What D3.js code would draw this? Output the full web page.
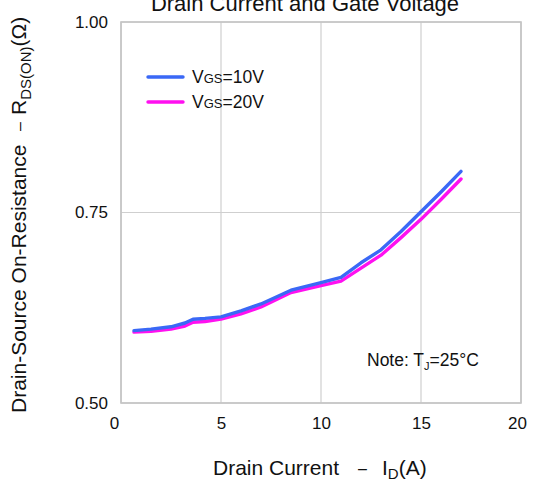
<!DOCTYPE html>
<html><head><meta charset="utf-8">
<script src="https://cdn.jsdelivr.net/npm/d3@7"></script>
<style>body{margin:0;background:#fff}svg{display:block;font-family:"Liberation Sans",Arial,sans-serif}</style>
</head><body>
<svg id="c" width="534" height="481"></svg>
<script>
const currentA = [0.65, 1.5, 2.5, 3.2, 3.6, 4.2, 5, 6, 7, 8.5, 10, 11, 12, 13, 14, 15, 16, 17];
const rdsVgs10 = [0.595, 0.597, 0.600, 0.605, 0.610, 0.611, 0.613, 0.621, 0.630, 0.648, 0.658, 0.665, 0.684, 0.701, 0.725, 0.751, 0.777, 0.804];
const rdsVgs20 = [0.593, 0.594, 0.597, 0.601, 0.606, 0.607, 0.610, 0.617, 0.626, 0.645, 0.654, 0.660, 0.677, 0.694, 0.717, 0.741, 0.767, 0.794];
const xTicks = [0, 5, 10, 15, 20];
const yTicks = [0.50, 0.75, 1.00];
const seriesNames = ["10V", "20V"];
const seriesColors = ["#3a68f6", "#ff10f0"];

const svg = d3.select("#c");
const L = 121, R = 521, T = 22, B = 403;
const x = d3.scaleLinear().domain([0, 20]).range([L, R]);
const y = d3.scaleLinear().domain([0.5, 1.0]).range([B, T]);

// grid
const g = svg.append("g");
g.selectAll(".vx").data(xTicks).join("line")
  .attr("x1", d => x(d)).attr("x2", d => x(d)).attr("y1", T).attr("y2", B)
  .attr("stroke", "#cfcfcf").attr("stroke-width", 1.2);
g.selectAll(".hy").data(yTicks).join("line")
  .attr("x1", L).attr("x2", R).attr("y1", d => y(d)).attr("y2", d => y(d))
  .attr("stroke", "#cfcfcf").attr("stroke-width", 1.2);
svg.append("rect").attr("x", L).attr("y", T).attr("width", R - L).attr("height", B - T)
  .attr("fill", "none").attr("stroke", "#c4c4c4").attr("stroke-width", 1.6);

// axes labels via d3 axes without lines
const xAxis = svg.append("g").attr("transform", `translate(0,${B})`)
  .call(d3.axisBottom(x).tickValues(xTicks).tickSize(0).tickPadding(14).tickFormat(d3.format("d")));
xAxis.select(".domain").remove();
xAxis.selectAll("text").attr("font-size", 17).attr("fill", "#111").attr("font-family", "Liberation Sans, Arial, sans-serif")
  .attr("dx", d => d === 0 ? -7 : (d === 20 ? -4 : 0));

const yAxis = svg.append("g").attr("transform", `translate(${L},0)`)
  .call(d3.axisLeft(y).tickValues(yTicks).tickSize(0).tickPadding(13).tickFormat(d3.format(".2f")));
yAxis.select(".domain").remove();
yAxis.selectAll("text").attr("font-size", 17).attr("fill", "#111").attr("font-family", "Liberation Sans, Arial, sans-serif");

// lines
const data = [rdsVgs10, rdsVgs20];
const line = d3.line().x((d, i) => x(currentA[i])).y(d => y(d));
[1, 0].forEach(k => {
  svg.append("path").datum(data[k]).attr("d", line).attr("fill", "none")
    .attr("stroke", seriesColors[k]).attr("stroke-width", 3.4).attr("stroke-linecap", "round").attr("stroke-linejoin", "round");
});

// legend
seriesNames.forEach((n, i) => {
  const ly = 77 + i * 25;
  svg.append("line").attr("x1", 148).attr("x2", 183).attr("y1", ly).attr("y2", ly)
    .attr("stroke", seriesColors[i]).attr("stroke-width", 3.4).attr("stroke-linecap", "round");
  const t = svg.append("text").attr("x", 192).attr("y", ly + 6).attr("font-size", 17.5).attr("fill", "#111");
  t.append("tspan").text("V");
  t.append("tspan").attr("font-size", 13).text("GS");
  t.append("tspan").text("=" + n);
});

// note
const nt = svg.append("text").attr("x", 367).attr("y", 366).attr("font-size", 17.5).attr("fill", "#111");
nt.append("tspan").text("Note: T");
nt.append("tspan").attr("font-size", 11).attr("dy", 4).text("J");
nt.append("tspan").attr("dy", -4).text("=25°C");

// title
svg.append("text").attr("x", 305).attr("y", 11).attr("text-anchor", "middle").attr("font-size", 22).attr("fill", "#111")
  .text("Drain Current and Gate Voltage");

// x title
const xt = svg.append("text").attr("x", 213).attr("y", 475).attr("font-size", 21).attr("fill", "#111");
xt.append("tspan").text("Drain Current");
xt.append("tspan").attr("x", 358).attr("font-size", 16).attr("dy", -1).text("–");
xt.append("tspan").attr("x", 382).attr("dy", 1).text("I");
xt.append("tspan").attr("font-size", 15).attr("dy", 4).text("D");
xt.append("tspan").attr("dy", -4).text("(A)");

// y title
const yt = svg.append("text").attr("transform", "translate(26,413) rotate(-90)").attr("font-size", 21).attr("fill", "#111");
yt.append("tspan").text("Drain-Source On-Resistance");
yt.append("tspan").attr("x", 282).attr("font-size", 16).attr("dy", -1).text("–");
yt.append("tspan").attr("x", 298).attr("dy", 1).text("R");
yt.append("tspan").attr("font-size", 15).attr("dy", 5).text("DS(ON)");
yt.append("tspan").attr("dy", -5).text("(Ω)");
</script>
</body></html>
